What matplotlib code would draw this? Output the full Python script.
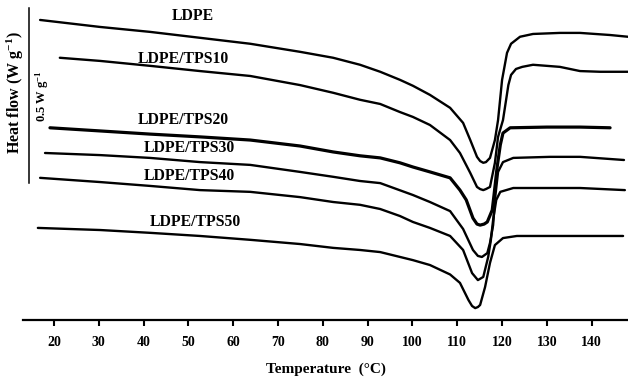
import matplotlib
matplotlib.use('Agg')
import matplotlib.pyplot as plt

plt.rcParams['font.family'] = ['Liberation Serif', 'DejaVu Serif']
plt.rcParams['font.weight'] = 'bold'
plt.rcParams['mathtext.fontset'] = 'custom'
plt.rcParams['mathtext.rm'] = 'Liberation Serif'
plt.rcParams['mathtext.bf'] = 'Liberation Serif:bold'
plt.rcParams['mathtext.default'] = 'bf'

# DSC heating curves, heat flow shifted (W/g), endo down
t_ldpe = [16.9, 30.3, 41.4, 52.6, 63.8, 74.9, 82.3, 88.3, 92.8, 97.2, 100.1, 103.9, 108.4, 111.3,
          112.9, 114.4, 115.1, 115.8, 116.4, 117.3, 118.4, 119.1, 120.0, 121.1, 122.0, 124.0,
          126.9, 132.9, 137.4, 144.1, 148.1]
hf_ldpe = [0.857, 0.837, 0.823, 0.806, 0.789, 0.766, 0.749, 0.729, 0.709, 0.686, 0.669, 0.643, 0.606,
           0.563, 0.514, 0.466, 0.454, 0.449, 0.451, 0.463, 0.514, 0.571, 0.686, 0.763, 0.789,
           0.809, 0.817, 0.820, 0.820, 0.814, 0.809]

t_tps10 = [21.3, 30.3, 41.4, 52.6, 63.8, 74.9, 82.3, 88.3, 92.8, 97.2, 100.1, 103.9, 108.4, 110.6,
           112.9, 114.4, 115.1, 115.8, 116.4, 117.3, 118.4, 119.1, 120.2, 120.9, 121.4, 122.0,
           123.1, 124.5, 126.9, 132.9, 137.4, 141.9, 148.1]
hf_tps10 = [0.749, 0.740, 0.726, 0.711, 0.697, 0.671, 0.649, 0.629, 0.617, 0.594, 0.580, 0.557, 0.514,
            0.477, 0.420, 0.380, 0.374, 0.371, 0.374, 0.380, 0.449, 0.523, 0.571, 0.629, 0.671,
            0.700, 0.717, 0.723, 0.729, 0.723, 0.711, 0.709, 0.709]

t_tps20 = [19.1, 30.3, 41.4, 52.6, 63.8, 74.9, 82.3, 88.3, 92.8, 97.2, 100.1, 103.9, 108.4, 110.6,
           112.0, 113.5, 114.4, 115.1, 116.0, 116.7, 117.8, 118.2, 118.9, 119.6, 120.2, 121.8,
           130.0, 137.4, 144.1]
hf_tps20 = [0.549, 0.540, 0.531, 0.523, 0.514, 0.497, 0.480, 0.469, 0.463, 0.449, 0.437, 0.423, 0.406,
            0.371, 0.343, 0.291, 0.274, 0.271, 0.274, 0.280, 0.314, 0.357, 0.437, 0.500, 0.534,
            0.549, 0.551, 0.551, 0.549]

t_tps30 = [18.0, 30.3, 41.4, 52.6, 63.8, 74.9, 82.3, 88.3, 92.8, 100.1, 103.9, 108.4, 111.3, 113.5,
           114.6, 115.5, 116.7, 117.3, 118.0, 118.4, 119.1, 120.2, 122.5, 130.7, 137.4, 147.2]
hf_tps30 = [0.477, 0.471, 0.463, 0.451, 0.443, 0.423, 0.409, 0.397, 0.391, 0.357, 0.337, 0.311, 0.260,
            0.200, 0.183, 0.180, 0.191, 0.220, 0.271, 0.343, 0.423, 0.451, 0.463, 0.466, 0.466, 0.457]

t_tps40 = [16.9, 30.3, 41.4, 52.6, 63.8, 74.9, 82.3, 88.3, 92.8, 97.2, 100.1, 103.9, 108.4, 111.3,
           113.3, 114.6, 115.8, 116.9, 117.5, 118.0, 118.7, 119.6, 122.5, 137.4, 147.4]
hf_tps40 = [0.406, 0.394, 0.383, 0.371, 0.366, 0.351, 0.337, 0.329, 0.317, 0.297, 0.280, 0.263, 0.240,
            0.200, 0.134, 0.114, 0.123, 0.180, 0.229, 0.286, 0.343, 0.366, 0.377, 0.377, 0.371]

t_tps50 = [16.4, 30.3, 41.4, 52.6, 63.8, 74.9, 82.3, 88.3, 92.8, 100.1, 103.9, 108.4, 110.6, 112.5,
           113.3, 114.0, 114.6, 115.1, 116.2, 117.3, 118.4, 120.2, 123.3, 137.4, 147.0]
hf_tps50 = [0.263, 0.257, 0.249, 0.240, 0.229, 0.217, 0.206, 0.200, 0.194, 0.171, 0.157, 0.130, 0.106,
            0.057, 0.040, 0.034, 0.037, 0.043, 0.094, 0.163, 0.214, 0.234, 0.240, 0.240, 0.240]

labels = ['LDPE', 'LDPE/TPS10', 'LDPE/TPS20', 'LDPE/TPS30', 'LDPE/TPS40', 'LDPE/TPS50']
label_t = [51.0, 48.8, 48.8, 50.1, 50.1, 51.5]
label_hf = [0.869, 0.746, 0.571, 0.491, 0.411, 0.280]
xticks = [20, 30, 40, 50, 60, 70, 80, 90, 100, 110, 120, 130, 140]

curves = [(t_ldpe, hf_ldpe), (t_tps10, hf_tps10), (t_tps20, hf_tps20),
          (t_tps30, hf_tps30), (t_tps40, hf_tps40), (t_tps50, hf_tps50)]
widths = [1.7, 1.7, 2.3, 1.7, 1.7, 1.7]

fig = plt.figure(figsize=(6.28, 3.83), dpi=100)
ax = fig.add_axes([0.0366, 0.1645, 0.9634, 0.8355])

for (t, hf), lw in zip(curves, widths):
    ax.plot(t, hf, color='black', lw=lw, solid_joinstyle='round', solid_capstyle='round')

for name, tx, ty in zip(labels, label_t, label_hf):
    ax.text(tx, ty, name, ha='center', va='center', fontsize=11.3, fontweight='bold')

# scale bar 0.5 W/g
ax.plot([14.42, 14.42], [0.391, 0.891], color='black', lw=1.1, clip_on=False)
ax.text(11.3, 0.65, 'Heat flow (W g$^{-1}$)', rotation=90, ha='center', va='center',
        fontsize=11.5, fontweight='bold', clip_on=False)
ax.text(17.4, 0.64, '0.5 W g$^{-1}$', rotation=90, ha='center', va='center',
        fontsize=9, fontweight='bold')

ax.set_xlim(13.08, 148.1)
ax.set_ylim(0, 0.914)
for s in ['top', 'right', 'left']:
    ax.spines[s].set_visible(False)
ax.spines['bottom'].set_linewidth(1.6)
ax.set_yticks([])
ax.set_xticks(xticks)
ax.tick_params(axis='x', direction='out', length=4.5, width=1.5, pad=7, labelsize=10)
for lab in ax.get_xticklabels():
    lab.set_fontweight('bold')
ax.set_xlabel('Temperature  (°C)', fontsize=11, fontweight='bold', labelpad=10)

fig.savefig('out.png', dpi=100)
